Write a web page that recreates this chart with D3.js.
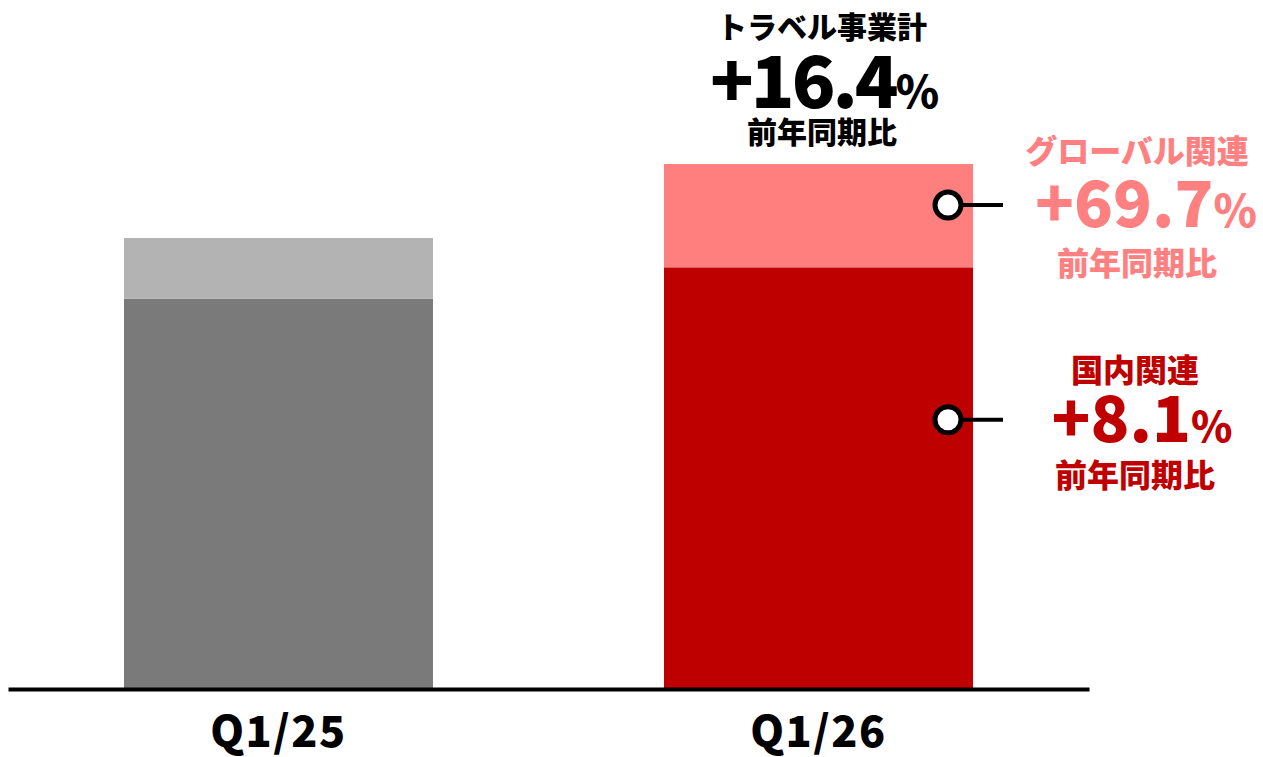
<!DOCTYPE html>
<html><head><meta charset="utf-8">
<script src="https://cdn.jsdelivr.net/npm/d3@7"></script>
<style>html,body{margin:0;padding:0;background:#fff}svg{display:block}</style>
</head><body>
<svg id="c" width="1263" height="757"></svg>
<script>
const categories = ["Q1/25", "Q1/26"];
const domestic = [86.5, 93.5];
const global = [13.5, 22.9];
const totalLabel = ["トラベル事業計", "+16.4", "%", "前年同期比"];
const globalLabel = ["グローバル関連", "+69.7", "%", "前年同期比"];
const domesticLabel = ["国内関連", "+8.1", "%", "前年同期比"];

const FONT = "'Noto Sans CJK JP','Noto Sans',sans-serif";
const svg = d3.select("#c");
const x = d3.scaleBand().domain(categories).range([8, 1089]).paddingInner(0.4278).paddingOuter(0.2148);
const y = d3.scaleLinear().domain([0, 100]).range([689, 238]);

const colors = {
  "Q1/25": {dom: "#7a7a7a", glo: "#b3b3b3"},
  "Q1/26": {dom: "#bf0000", glo: "#ff7f7f"}
};
const data = categories.map((c, i) => ({c, d: domestic[i], g: global[i]}));

const g = svg.append("g");
g.selectAll("rect.dom").data(data).join("rect").attr("class", "dom")
  .attr("x", d => x(d.c)).attr("width", x.bandwidth())
  .attr("y", d => y(d.d)).attr("height", d => y(0) - y(d.d))
  .attr("fill", d => colors[d.c].dom);
g.selectAll("rect.glo").data(data).join("rect").attr("class", "glo")
  .attr("x", d => x(d.c)).attr("width", x.bandwidth())
  .attr("y", d => y(d.d + d.g)).attr("height", d => y(d.d) - y(d.d + d.g))
  .attr("fill", d => colors[d.c].glo);

// axis
const ax = svg.append("g").attr("transform", `translate(0,${y(0)})`)
  .call(d3.axisBottom(x).tickSize(0).tickSizeOuter(0));
ax.select(".domain").attr("stroke", "#000").attr("stroke-width", 4);
ax.selectAll("text").attr("dy", 0).attr("y", 58)
  .style("font-family", FONT).style("font-weight", 900).style("font-size", "43px")
  .style("letter-spacing", "1.5px").attr("fill", "#000");

// annotation markers
const bx = x("Q1/26") + x.bandwidth();
const markers = [y(107.3), y(59.7)];
markers.forEach(my => {
  svg.append("line").attr("x1", bx - 25).attr("x2", bx + 30).attr("y1", my).attr("y2", my)
    .attr("stroke", "#000").attr("stroke-width", 4);
  svg.append("circle").attr("cx", bx - 25).attr("cy", my).attr("r", 13)
    .attr("fill", "#fff").attr("stroke", "#000").attr("stroke-width", 5);
});

function block(lbl, cx, color, t1y, numx, numy, numSize, pctSize, t3y, smallSize, ls) {
  const t = svg.append("g").style("font-family", FONT).style("font-weight", 900).attr("fill", color);
  t.append("text").attr("x", cx).attr("y", t1y).attr("text-anchor", "middle")
    .attr("dominant-baseline", "central").style("font-size", smallSize + "px").text(lbl[0]);
  const n = t.append("text").attr("x", numx).attr("y", numy).attr("text-anchor", "middle")
    .style("letter-spacing", ls + "px");
  n.append("tspan").style("font-size", numSize + "px").text(lbl[1]);
  n.append("tspan").style("font-size", pctSize + "px").text(lbl[2]);
  t.append("text").attr("x", cx).attr("y", t3y).attr("text-anchor", "middle")
    .attr("dominant-baseline", "central").style("font-size", smallSize + "px").text(lbl[3]);
}
block(totalLabel, 822, "#000", 25, 823, 108, 72, 44, 130, 30, -3);
block(globalLabel, 1137, "#ff8080", 149, 1146, 227, 64, 44, 261, 32, 0);
block(domesticLabel, 1135, "#c00000", 367.5, 1142, 442, 64, 42, 472.5, 32, 0);
</script>
</body></html>
